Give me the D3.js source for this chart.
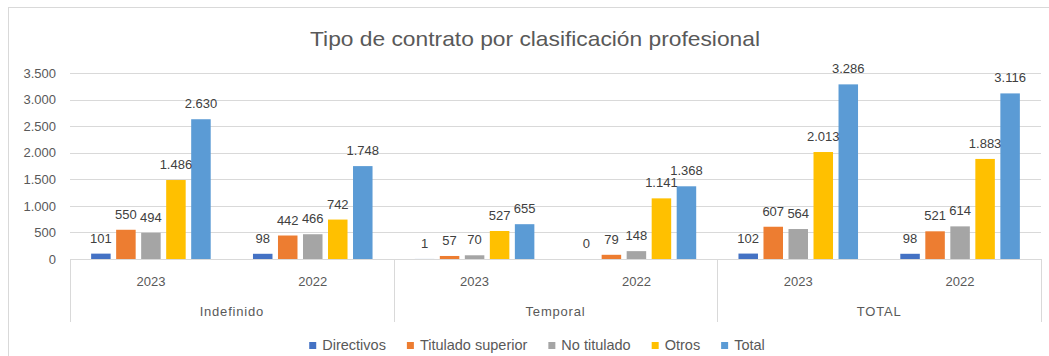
<!DOCTYPE html>
<html>
<head>
<meta charset="utf-8">
<script src="https://cdn.jsdelivr.net/npm/d3@7"></script>
<style>
  html, body { margin: 0; padding: 0; background: #fff; }
  svg { display: block; font-family: "Liberation Sans", Arial, sans-serif; }
</style>
</head>
<body>
<svg id="chart" width="1049" height="356"></svg>
<script>
// Contract type by professional classification
const groups = ["Indefinido", "Temporal", "TOTAL"];
const years = ["2023", "2022"];
const seriesNames = ["Directivos", "Titulado superior", "No titulado", "Otros", "Total"];
const seriesColors = ["#4472C4", "#ED7D31", "#A5A5A5", "#FFC000", "#5B9BD5"];
const yTicks = [0, 500, 1000, 1500, 2000, 2500, 3000, 3500];

// One array per series, in category order: Indefinido 2023, 2022, Temporal 2023, 2022, TOTAL 2023, 2022
const directivos       = [101, 98, 1, 0, 102, 98];
const tituladoSuperior = [550, 442, 57, 79, 607, 521];
const noTitulado       = [494, 466, 70, 148, 564, 614];
const otros            = [1486, 742, 527, 1141, 2013, 1883];
const total            = [2630, 1748, 655, 1368, 3286, 3116];

const seriesValues = [directivos, tituladoSuperior, noTitulado, otros, total];

const categories = [];
groups.forEach(g => years.forEach(y => categories.push({ key: g + "|" + y, group: g, year: y })));

const svg = d3.select("#chart");
const W = 1049, H = 356;
const plot = { left: 70, right: 1041, top: 73, bottom: 259 };

const fmt = d3.formatLocale({ decimal: ",", thousands: ".", grouping: [3], currency: ["", "€"] }).format(",d");

// outer frame
svg.append("rect")
  .attr("x", 8.5).attr("y", 7.5)
  .attr("width", W + 10).attr("height", H + 10)
  .attr("fill", "#fff").attr("stroke", "#d9d9d9");

// title
svg.append("text")
  .attr("x", 535).attr("y", 46)
  .attr("text-anchor", "middle")
  .attr("font-size", 21)
  .attr("fill", "#595959")
  .attr("textLength", 450)
  .attr("lengthAdjust", "spacingAndGlyphs")
  .text("Tipo de contrato por clasificación profesional");

const y = d3.scaleLinear().domain([0, 3500]).range([plot.bottom, plot.top]);
const x0 = d3.scaleBand().domain(categories.map(c => c.key)).range([plot.left, plot.right]).padding(0);
const x1 = d3.scaleBand().domain(seriesNames).range([0, x0.bandwidth()]).paddingInner(0.22).paddingOuter(0.845);
const xg = d3.scaleBand().domain(groups).range([plot.left, plot.right]).padding(0);

// gridlines
svg.append("g")
  .selectAll("line")
  .data(yTicks.filter(t => t > 0))
  .join("line")
  .attr("x1", plot.left).attr("x2", plot.right)
  .attr("y1", d => Math.round(y(d)) + 0.5).attr("y2", d => Math.round(y(d)) + 0.5)
  .attr("stroke", "#d9d9d9").attr("stroke-width", 1);

// y axis labels
const yAxis = d3.axisLeft(y).tickValues(yTicks).tickFormat(fmt).tickSize(0).tickPadding(14);
const yg = svg.append("g").attr("transform", `translate(${plot.left},0)`).call(yAxis);
yg.select(".domain").remove();
yg.selectAll("text")
  .attr("font-size", 13)
  .attr("font-family", "Liberation Sans, Arial, sans-serif")
  .attr("fill", "#595959");

// bars
const barG = svg.append("g");
seriesNames.forEach((name, si) => {
  const vals = seriesValues[si];
  barG.append("g")
    .selectAll("rect")
    .data(categories.map((c, i) => ({ c, v: vals[i] })))
    .join("rect")
    .attr("x", d => x0(d.c.key) + x1(name))
    .attr("width", x1.bandwidth())
    .attr("y", d => y(d.v))
    .attr("height", d => y(0) - y(d.v))
    .attr("fill", seriesColors[si]);
});

// data labels
const labG = svg.append("g");
seriesNames.forEach((name, si) => {
  const vals = seriesValues[si];
  labG.append("g")
    .selectAll("text")
    .data(categories.map((c, i) => ({ c, v: vals[i] })))
    .join("text")
    .attr("x", d => x0(d.c.key) + x1(name) + x1.bandwidth() / 2)
    .attr("y", d => y(d.v) - 11)
    .attr("text-anchor", "middle")
    .attr("font-size", 13)
    .attr("fill", "#404040")
    .text(d => fmt(d.v));
});

// category axis line and group separators
const axisG = svg.append("g");
axisG.append("line")
  .attr("x1", plot.left).attr("x2", plot.right)
  .attr("y1", plot.bottom + 0.5).attr("y2", plot.bottom + 0.5)
  .attr("stroke", "#d9d9d9");
const sepX = groups.map(g => xg(g)).concat([plot.right]);
axisG.selectAll("line.sep")
  .data(sepX)
  .join("line")
  .attr("class", "sep")
  .attr("x1", d => Math.round(d) + 0.5).attr("x2", d => Math.round(d) + 0.5)
  .attr("y1", plot.bottom).attr("y2", 322)
  .attr("stroke", "#d9d9d9");

// year labels
axisG.selectAll("text.year")
  .data(categories)
  .join("text")
  .attr("class", "year")
  .attr("x", d => x0(d.key) + x0.bandwidth() / 2)
  .attr("y", 286)
  .attr("text-anchor", "middle")
  .attr("font-size", 13)
  .attr("fill", "#595959")
  .text(d => d.year);

// group labels
axisG.selectAll("text.group")
  .data(groups)
  .join("text")
  .attr("class", "group")
  .attr("x", d => xg(d) + xg.bandwidth() / 2)
  .attr("y", 316)
  .attr("text-anchor", "middle")
  .attr("font-size", 13)
  .attr("letter-spacing", 0.8)
  .attr("fill", "#595959")
  .text(d => d);

// legend
const leg = svg.append("g");
const items = leg.selectAll("g").data(seriesNames).join("g");
items.append("rect").attr("width", 7).attr("height", 7).attr("y", 342)
  .attr("fill", (d, i) => seriesColors[i]);
items.append("text").attr("x", 13).attr("y", 350)
  .attr("font-size", 14.5).attr("fill", "#595959")
  .text(d => d);
const gap = 21;
let cursor = 0;
const offsets = [];
items.each(function () {
  const tw = d3.select(this).select("text").node().getComputedTextLength();
  offsets.push(cursor);
  cursor += 13 + tw + gap;
});
const legendWidth = cursor - gap;
const legendStart = 537 - legendWidth / 2;
items.attr("transform", (d, i) => `translate(${legendStart + offsets[i]},0)`);
</script>
</body>
</html>
